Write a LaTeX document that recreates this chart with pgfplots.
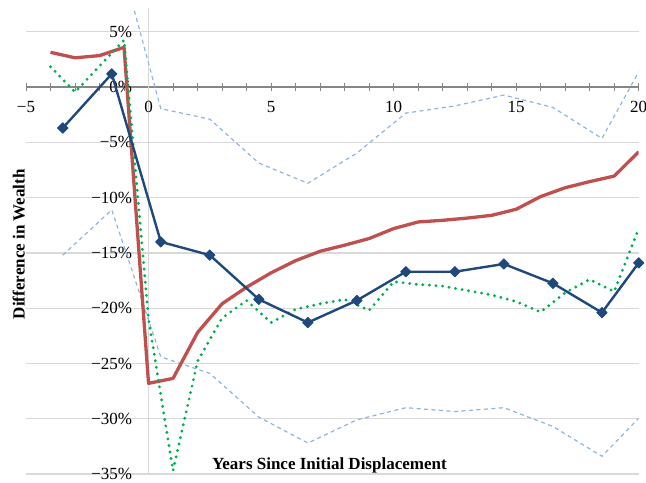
\documentclass[border=0pt]{standalone}
\usepackage{fontspec}
\setmainfont{Liberation Serif}
\usepackage{pgfplots}
\pgfplotsset{compat=1.18}
\definecolor{cblue}{HTML}{1F497D}
\definecolor{cred}{HTML}{C0504D}
\definecolor{cgreen}{HTML}{00B050}
\definecolor{clblue}{HTML}{8DB4E2}
\definecolor{cgrid}{HTML}{D9D9D9}
\definecolor{caxis}{HTML}{868686}
\begin{document}
\begin{tikzpicture}
\begin{axis}[
 name=ax,
 width=612.7pt, height=465.7pt, scale only axis,
 xmin=-5, xmax=20, ymin=-35, ymax=7.13,
 enlargelimits=false,
 axis x line=middle, axis y line=middle,
 x axis line style={-, draw=caxis, line width=1.8pt},
 y axis line style={-, draw=cgrid, line width=1.5pt},
 xtick={-5,0,5,10,15,20},
 xticklabels={−5,0,5,10,15,20},
 minor x tick num=4,
 ytick={-35,-30,-25,-20,-15,-10,-5,0,5},
 yticklabels={−35\%,−30\%,−25\%,−20\%,−15\%,−10\%,−5\%,0\%,5\%},
 ymajorgrids, xmajorgrids=false,
 major grid style={draw=cgrid, line width=1.2pt},
 tick align=center,
 xtick style={draw=caxis, line width=0.8pt},
 major tick length=8pt, minor tick length=8pt,
 ytick style={draw=none},
 hide obscured x ticks=false, hide obscured y ticks=false,
 tick label style={font=\fontsize{17}{20}\selectfont},
 xticklabel style={yshift=-7pt},
 yticklabel style={xshift=-9pt},
 xlabel={Years Since Initial Displacement},
 ylabel={Difference in Wealth},
 every axis x label/.style={at={(axis description cs:0.5,0)}, anchor=south, inner sep=1pt, xshift=-3pt, font=\fontsize{17}{20}\selectfont\bfseries},
 every axis y label/.style={at={(axis description cs:0,0.5)}, rotate=90, anchor=south, inner sep=1pt, xshift=-3pt, font=\fontsize{17}{20}\selectfont\bfseries},
 clip=true,
]
% upper confidence bound
\addplot[clblue, line width=1.2pt, dash pattern=on 4pt off 3.5pt] coordinates {
(-3.5,9) (-1.5,14.5) (0.5,-1.95) (2.5,-2.9) (4.5,-6.87) (6.5,-8.7) (8.5,-5.97)
(10.5,-2.35) (12.5,-1.7) (14.5,-0.72) (16.5,-1.84) (18.5,-4.64) (20,1.38)};
% lower confidence bound
\addplot[clblue, line width=1.2pt, dash pattern=on 4pt off 3.5pt] coordinates {
(-3.5,-15.2) (-1.5,-11.1) (0.5,-24.4) (2.5,-25.9) (4.5,-29.85) (6.5,-32.2) (8.5,-30.1)
(10.5,-29.0) (12.5,-29.35) (14.5,-29.0) (16.5,-30.7) (18.5,-33.4) (20,-29.95)};
% red
\addplot[cred, line width=3.3pt, line join=round] coordinates {
(-4,3.15) (-3,2.65) (-2,2.85) (-1,3.6) (0,-26.8) (1,-26.35) (2,-22.2) (3,-19.6)
(4,-18.1) (5,-16.8) (6,-15.7) (7,-14.85) (8,-14.3) (9,-13.7) (10,-12.8) (11,-12.2)
(12,-12.05) (13,-11.85) (14,-11.6) (15,-11.05) (16,-9.9) (17,-9.1) (18,-8.55) (19,-8.05) (20,-5.85)};
% green
\addplot[cgreen, line width=3.2pt, line cap=round, dash pattern=on 0pt off 6.6pt] coordinates {
(-4,1.85) (-3,-0.45) (-2,1.9) (-1,4.25) (0,-21) (1,-34.7) (2,-24.8) (3,-20.9)
(4,-19.3) (5,-21.3) (6,-20.1) (7,-19.6) (8,-19.2) (9,-20.2) (10,-17.6) (11,-17.85)
(12,-18.0) (13,-18.4) (14,-18.8) (15,-19.4) (16,-20.35) (17,-18.6) (18,-17.4) (19,-18.5) (20,-12.8)};
% blue with diamonds
\addplot[cblue, line width=2.4pt, line join=round, mark=square*, mark size=3.7pt, mark options={solid, rotate=45, fill=cblue, line width=0.8pt}] coordinates {
(-3.5,-3.7) (-1.5,1.2) (0.5,-14.0) (2.5,-15.2) (4.5,-19.2) (6.5,-21.3) (8.5,-19.3)
(10.5,-16.7) (12.5,-16.7) (14.5,-16.0) (16.5,-17.75) (18.5,-20.4) (20,-15.9)};
\end{axis}
\pgfresetboundingbox
\path[use as bounding box] ([xshift=-26pt,yshift=-8pt]ax.south west) rectangle ([xshift=7.3pt,yshift=8.3pt]ax.north east);
\end{tikzpicture}
\end{document}
